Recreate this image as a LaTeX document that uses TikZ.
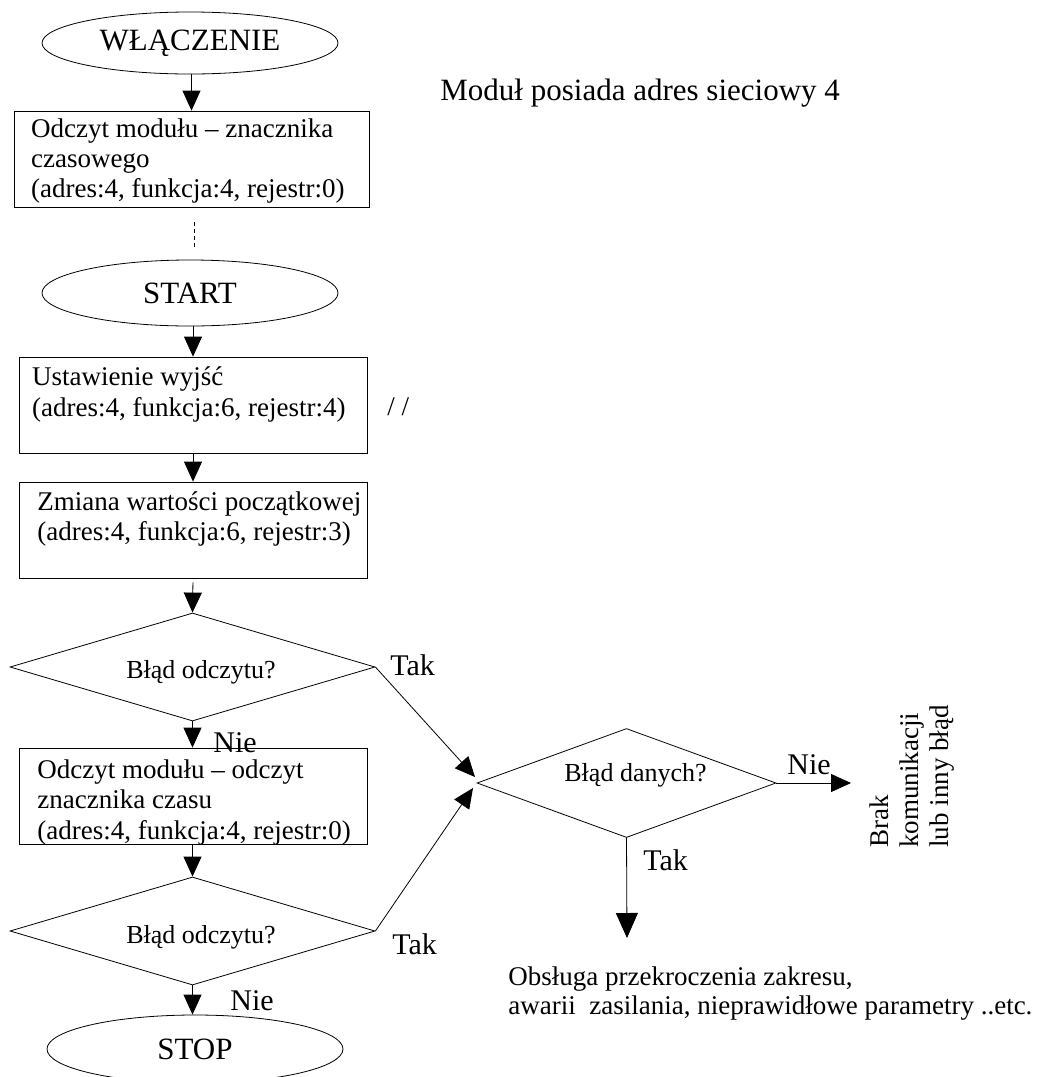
\documentclass[tikz,border=0pt]{standalone}
\usepackage{fontspec}
\setmainfont{Liberation Serif}
\usetikzlibrary{shapes.geometric,arrows.meta}
\begin{document}
\begin{tikzpicture}[x=1pt,y=-1pt,line width=0.8pt,
  arr/.style={-{Triangle[length=20pt,width=18pt]}},
  bigarr/.style={-{Triangle[length=25pt,width=22pt]}},
  term/.style={draw,ellipse,minimum width=296pt,minimum height=62pt,inner sep=0pt,font=\fontsize{31}{34}\selectfont},
  procbox/.style={draw,rectangle,minimum width=348pt,minimum height=96pt,inner sep=0pt},
  btext/.style={anchor=base west,inner sep=0pt,font=\fontsize{27}{30}\selectfont},
  dec/.style={draw,diamond,inner sep=0pt,minimum width=365pt,minimum height=108pt},
  dtext/.style={anchor=base,inner sep=0pt,font=\fontsize{26}{30}\selectfont},
  lbl/.style={anchor=base west,inner sep=0pt,font=\fontsize{30}{33}\selectfont}]
\useasboundingbox (0,0) rectangle (1040,1077);
\clip (0,0) rectangle (1040,1077);
\fill[white] (0,0) rectangle (1040,1077);

% left column
\node[term] (on) at (190,43) {WŁĄCZENIE};
\node[procbox,minimum width=355pt] (b1) at (191.5,159) {};
\node[btext] (b1t) at (30.7,137) {\parbox[t]{340pt}{\raggedright Odczyt modułu – znacznika\\czasowego\\(adres:4, funkcja:4, rejestr:0)}};
\node[term,minimum height=66pt] (st) at (190,293) {START};
\node[procbox] (b2) at (193,405) {};
\node[btext] (b2t) at (31.7,385) {\parbox[t]{340pt}{\raggedright\baselineskip=31pt Ustawienie wyjść\\(adres:4, funkcja:6, rejestr:4)}};
\node[btext] (sl) at (387,415) {/ /};
\node[procbox] (b3) at (193,530) {};
\node[btext] (b3t) at (37,510) {\parbox[t]{340pt}{\raggedright Zmiana wartości początkowej\\(adres:4, funkcja:6, rejestr:3)}};
\node[dec] (d1) at (192.5,667) {};
\node[dtext] (d1t) at (201,678) {Błąd odczytu?};
\node[procbox] (b4) at (193,796) {};
\node[btext] (b4t) at (37,778) {\parbox[t]{340pt}{\raggedright\baselineskip=30.5pt Odczyt modułu – odczyt\\znacznika czasu\\(adres:4, funkcja:4, rejestr:0)}};
\node[dec] (d3) at (192.5,931) {};
\node[dtext] (d3t) at (201,943) {Błąd odczytu?};
\node[term,minimum height=68pt] (stop) at (195,1049) {STOP};

% right part
\node[anchor=base west,inner sep=0pt,font=\fontsize{31}{34}\selectfont] (title) at (440,100) {Moduł posiada adres sieciowy 4};
\node[draw,diamond,inner sep=0pt,minimum width=299pt,minimum height=109pt] (d2) at (626.5,783) {};
\node[dtext] (d2t) at (635.5,781) {Błąd danych?};
\node[rotate=90,anchor=north west,inner sep=0pt,font=\fontsize{27}{30}\selectfont] (brak) at (869.5,848) {\parbox[t]{200pt}{\raggedright Brak\\komunikacji\\lub inny błąd}};
\node[btext] (obs) at (508,985) {\parbox[t]{540pt}{\raggedright\baselineskip=29pt Obsługa przekroczenia zakresu,\\awarii\ \ zasilania, nieprawidłowe parametry ..etc.}};

% labels
\node[lbl] (tak1) at (390,675) {Tak};
\node[lbl] (nie1) at (213,752) {Nie};
\node[lbl] (tak2) at (392,954) {Tak};
\node[lbl] (nie2) at (230,1010) {Nie};
\node[lbl] (nie3) at (787,774) {Nie};
\node[lbl] (tak3) at (643,870) {Tak};

% connectors
\coordinate (in1) at (475,777);
\coordinate (in2) at (473,788);
\coordinate (nieend) at (851,783);
\coordinate (takend) at (627,938);
\draw[arr] (on.south -| b1.north) -- (b1.north);
\draw[dashed,dash pattern=on 4pt off 3pt,line width=0.6pt,shorten <=15pt,shorten >=12pt] ([xshift=3pt]b1.south) -- ([xshift=3pt]b1.south |- st.north);
\draw[arr] (st.south -| b2.north) -- (b2.north);
\draw[arr] (b2.south) -- (b3.north);
\draw[arr,shorten <=4pt] (b3.south) -- (d1.north);
\draw[arr] (d1.south) -- (d1.south |- b4.north);
\draw[arr] (b4.south -| d3.north) -- (d3.north);
\draw[arr] (d3.south) -- (d3.south |- stop.north);
\draw[arr] (d1.east) -- (in1);
\draw[arr] (d3.east) -- (in2);
\draw[arr] (d2.east) -- (nieend);
\draw[bigarr] (d2.south) -- (takend);
\end{tikzpicture}
\end{document}
